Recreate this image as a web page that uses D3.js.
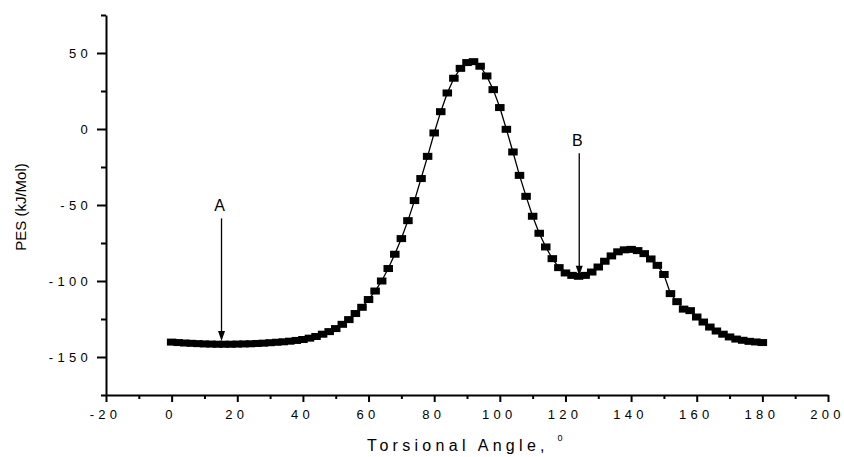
<!DOCTYPE html>
<html>
<head>
<meta charset="utf-8">
<script src="https://cdn.jsdelivr.net/npm/d3@7"></script>
<style>
   body { margin: 0; background: #fff; }
   text { font-family: "Liberation Sans", Arial, sans-serif; fill: #000; }
</style>
</head>
<body>
<div id="chart"></div>
<script>

// TORSIONAL ANGLE (DEG) -- ONE POINT EVERY 2 DEGREES
var angles = [0, 2, 4, 6, 8, 10, 12, 14, 16, 18, 20, 22, 24, 26, 28, 30, 32, 34, 36, 38,
   40, 42, 44, 46, 48, 50, 52, 54, 56, 58, 60, 62, 64, 66, 68, 70, 72, 74, 76, 78,
   80, 82, 84, 86, 88, 90, 92, 94, 96, 98, 100, 102, 104, 106, 108, 110, 112, 114, 116, 118,
   120, 122, 124, 126, 128, 130, 132, 134, 136, 138, 140, 142, 144, 146, 148, 150, 152, 154, 156, 158,
   160, 162, 164, 166, 168, 170, 172, 174, 176, 178, 180];

// PES (kJ/Mol)
var pes = [-140.2, -140.5, -140.8, -141.0, -141.2, -141.4, -141.5, -141.6, -141.6, -141.6,
   -141.5, -141.4, -141.3, -141.1, -140.9, -140.6, -140.3, -140.0, -139.6, -139.1,
   -138.5, -137.6, -136.5, -135.0, -133.3, -131.3, -128.5, -125.4, -121.4, -117.3,
   -112.2, -106.6, -100.0, -91.8, -82.4, -72.1, -60.3, -47.1, -32.6, -18.0,
   -2.6, 11.4, 23.7, 33.4, 39.9, 43.7, 44.3, 41.3, 34.9, 25.9,
   14.1, -0.2, -15.1, -30.5, -44.3, -57.4, -68.6, -77.6, -85.3, -91.2,
   -94.7, -96.3, -96.9, -96.3, -94.1, -90.8, -87.0, -83.5, -80.8, -79.5,
   -79.2, -80.0, -82.0, -85.5, -89.7, -95.7, -108.3, -113.6, -118.5, -119.5,
   -123.7, -127.0, -130.3, -132.9, -135.0, -136.8, -138.2, -139.0, -139.7, -140.1, -140.5];

// TICKS
var xTicks = [-20, 0, 20, 40, 60, 80, 100, 120, 140, 160, 180, 200];
var xMinor = [-10, 10, 30, 50, 70, 90, 110, 130, 150, 170, 190];
var yTicks = [-150, -100, -50, 0, 50];
var yMinor = [-175, -125, -75, -25, 25, 75];

// ARROW ANNOTATIONS (DATA UNITS)
var annoLabels = ['A', 'B'];
var annoX = [15.2, 124.2];
var annoTop = [-58.8, -16];
var annoTip = [-139.5, -96.5];

// SETTINGS OBJECT
var settings = {
   width: 844,
   height: 457,
   left: 106,
   right: 828,
   top: 15,
   bottom: 395,
   tick: { major: 7, minor: 4 },
   label: { size: 13, spacing: 4.3 },
   marker: { w: 9.5, h: 7 }
}

// SCALES
var xScale = d3.scaleLinear()
   .domain([-20, 200])
   .range([settings.left, settings.right])

var yScale = d3.scaleLinear()
   .domain([-175, 75])
   .range([settings.bottom, settings.top])

// CANVAS
var canvas = d3.select('#chart').append('svg')
   .attr('width', settings.width)
   .attr('height', settings.height)

// X AXIS -- MINOR THEN MAJOR
canvas.append('g')
   .attr('transform', 'translate(0,' + settings.bottom + ')')
   .call(d3.axisBottom(xScale).tickValues(xMinor).tickSize(settings.tick.minor).tickSizeOuter(0).tickFormat(''))
   .call(g => g.select('.domain').remove())
   .selectAll('line').attr('stroke-width', 2)

var xAxis = canvas.append('g')
   .attr('transform', 'translate(0,' + settings.bottom + ')')
   .call(d3.axisBottom(xScale).tickValues(xTicks).tickSize(settings.tick.major).tickSizeOuter(0).tickPadding(8).tickFormat(d3.format('d')))

xAxis.select('.domain').attr('stroke-width', 2)
xAxis.selectAll('line').attr('stroke-width', 2)
xAxis.selectAll('text')
   .attr('font-size', settings.label.size)
   .attr('dx', -1)
   .style('letter-spacing', settings.label.spacing + 'px')
   .style('font-family', '"Liberation Sans", Arial, sans-serif')
   .text(d => String(d))

// Y AXIS -- MINOR THEN MAJOR
canvas.append('g')
   .attr('transform', 'translate(' + settings.left + ',0)')
   .call(d3.axisLeft(yScale).tickValues(yMinor).tickSize(settings.tick.minor + 1).tickSizeOuter(0).tickFormat(''))
   .call(g => g.select('.domain').remove())
   .selectAll('line').attr('stroke-width', 2)

var yAxis = canvas.append('g')
   .attr('transform', 'translate(' + settings.left + ',0)')
   .call(d3.axisLeft(yScale).tickValues(yTicks).tickSize(settings.tick.major + 2).tickSizeOuter(0).tickPadding(5))

yAxis.select('.domain').attr('stroke-width', 2)
yAxis.selectAll('line').attr('stroke-width', 2)
yAxis.selectAll('text')
   .attr('font-size', settings.label.size)
   .style('letter-spacing', settings.label.spacing + 'px')
   .style('font-family', '"Liberation Sans", Arial, sans-serif')
   .text(d => String(d))

// AXIS TITLES
var xTitle = canvas.append('text')
   .attr('x', (settings.left + settings.right) / 2)
   .attr('y', 451)
   .attr('text-anchor', 'middle')
   .attr('font-size', 16)
   .style('letter-spacing', '4.3px')

xTitle.append('tspan').text('Torsional Angle, ')
xTitle.append('tspan').attr('font-size', 9).attr('dy', -10).text('0')

canvas.append('text')
   .attr('transform', 'translate(26,' + ((settings.top + settings.bottom) / 2 + 2) + ') rotate(-90)')
   .attr('text-anchor', 'middle')
   .attr('font-size', 15)
   .text('PES (kJ/Mol)')

// CONNECTING LINE
var pathify = d3.line()
   .x((d, i) => xScale(angles[i]))
   .y((d) => yScale(d))

canvas.append('path')
   .attr('fill', 'none')
   .attr('stroke', '#000')
   .attr('stroke-width', 1.3)
   .attr('d', pathify(pes))

// SQUARE MARKERS
canvas.selectAll('rect.pt').data(pes).enter()
   .append('rect')
   .attr('class', 'pt')
   .attr('x', (d, i) => xScale(angles[i]) - settings.marker.w / 2)
   .attr('y', (d) => yScale(d) - settings.marker.h / 2)
   .attr('width', settings.marker.w)
   .attr('height', settings.marker.h)
   .attr('fill', '#000')

// ARROWS WITH LABELS
annoLabels.forEach((label, i) => {
   var ax = xScale(annoX[i]);
   var y0 = yScale(annoTop[i]);
   var y1 = yScale(annoTip[i]);

   canvas.append('line')
      .attr('x1', ax).attr('x2', ax)
      .attr('y1', y0).attr('y2', y1 - 8)
      .attr('stroke', '#000')
      .attr('stroke-width', 1.3)

   canvas.append('path')
      .attr('d', 'M' + (ax - 3.5) + ',' + (y1 - 10) + 'L' + (ax + 3.5) + ',' + (y1 - 10) + 'L' + ax + ',' + y1 + 'Z')
      .attr('fill', '#000')

   canvas.append('text')
      .attr('x', ax - 2)
      .attr('y', y0 - 7)
      .attr('text-anchor', 'middle')
      .attr('font-size', 16)
      .text(label)
});

</script>
</body>
</html>
